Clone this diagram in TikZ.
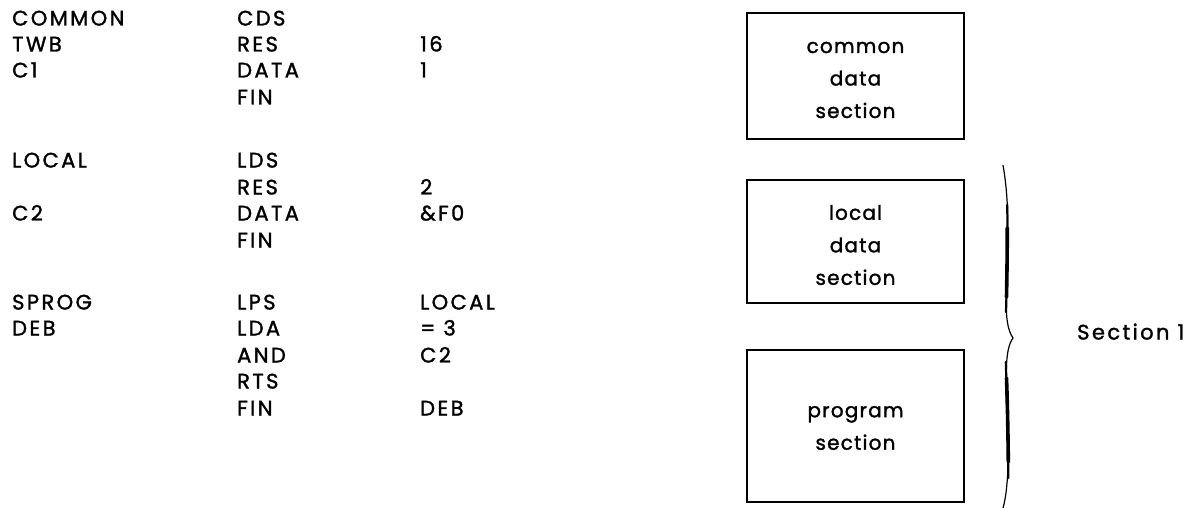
\documentclass[tikz,border=0pt]{standalone}
\usepackage{fontspec}
\setmainfont{Poppins}[LetterSpace=6,FakeBold=1.5]
\newfontfamily\labfont{Poppins}[LetterSpace=11.5,FakeBold=1.5]
\begin{document}
\begin{tikzpicture}[x=1pt,y=-1pt,
  lbl/.style={anchor=base west, inner sep=0pt, font=\labfont\fontsize{21}{24}\selectfont},
  boxed/.style={draw, line width=1.8pt, inner sep=0pt},
  btxt/.style={anchor=center, inner sep=0pt, align=center, font=\fontsize{20}{32.5}\selectfont}]
\useasboundingbox (0,0) rectangle (1193,508);
% column 1
\node[lbl] (a1) at (12,25.5) {COMMON};
\node[lbl] (a2) at (12,51.5) {TWB};
\node[lbl] (a3) at (12,77.5) {C1};
\node[lbl] (a4) at (12,167.5) {LOCAL};
\node[lbl] (a5) at (12,220.5) {C2};
\node[lbl] (a6) at (12,309.5) {SPROG};
\node[lbl] (a7) at (12,335.5) {DEB};
% column 2
\node[lbl] (b1) at (237,25.5) {CDS};
\node[lbl] (b2) at (237,51.5) {RES};
\node[lbl] (b3) at (237,77.5) {DATA};
\node[lbl] (b4) at (237,104.5) {FIN};
\node[lbl] (b5) at (237,167.5) {LDS};
\node[lbl] (b6) at (237,194.5) {RES};
\node[lbl] (b7) at (237,220.5) {DATA};
\node[lbl] (b8) at (237,247.5) {FIN};
\node[lbl] (b9) at (237,309.5) {LPS};
\node[lbl] (b10) at (237,335.5) {LDA};
\node[lbl] (b11) at (237,362.5) {AND};
\node[lbl] (b12) at (237,388.5) {RTS};
\node[lbl] (b13) at (237,415.5) {FIN};
% column 3
\node[lbl] (c1) at (420,51.5) {16};
\node[lbl] (c2) at (420,77.5) {1};
\node[lbl] (c3) at (420,194.5) {2};
\node[lbl] (c4) at (420,220.5) {\&F0};
\node[lbl] (c5) at (420,309.5) {LOCAL};
\node[lbl] (c6) at (420,335.5) {= 3};
\node[lbl] (c7) at (420,362.5) {C2};
\node[lbl] (c8) at (420,415.5) {DEB};
% boxes
\draw[boxed] (747,13) rectangle (964,139);
\draw[boxed] (747,180) rectangle (964,303);
\draw[boxed] (747,350) rectangle (964,502);
\node[btxt] (t1) at (855.5,80) {common\\data\\section};
\node[btxt] (t2) at (855.5,245) {local\\data\\section};
\node[btxt] (t3) at (855.5,428) {program\\section};
% brace
\draw[line width=1.2pt] (1003,165) .. controls (1009,200) and (1008,230) .. (1007,260)
  .. controls (1006,300) and (1004,325) .. (1013,338)
  .. controls (1004,350) and (1006,380) .. (1008,420)
  .. controls (1009,460) and (1008,490) .. (1003,508);
\draw[line width=2.2pt, line cap=round] (1007.3,205) .. controls (1007.5,240) and (1007,280) .. (1006,312);
\draw[line width=3.6pt, line cap=round] (1007.2,228) .. controls (1007.3,250) and (1007,270) .. (1006.5,297);
\draw[line width=2.2pt, line cap=round] (1005.8,362) .. controls (1007,400) and (1008,440) .. (1008.3,478);
\draw[line width=3.6pt, line cap=round] (1006.5,378) .. controls (1007.3,400) and (1008,430) .. (1008.3,462);
\node[lbl] (s1) at (1077,339.5) {Section 1};
\end{tikzpicture}
\end{document}
